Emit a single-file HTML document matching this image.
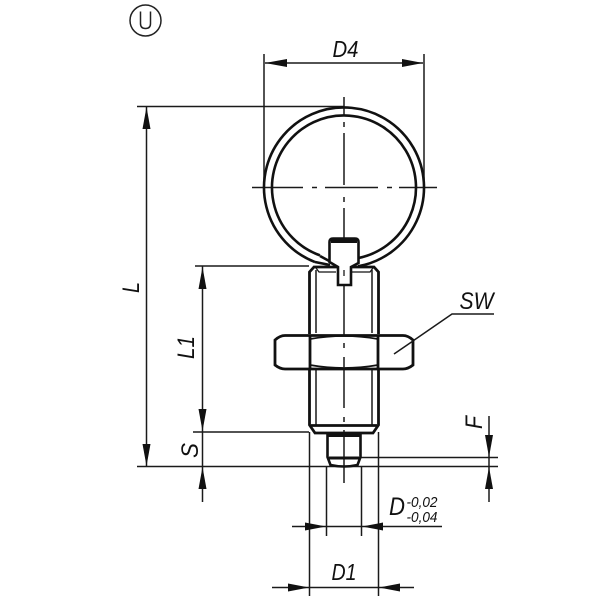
<!DOCTYPE html>
<html><head><meta charset="utf-8"><style>html,body{margin:0;padding:0;background:#fff}svg{display:block}text{font-family:"Liberation Sans",sans-serif;fill:#111}</style></head><body>
<svg width="600" height="600" viewBox="0 0 600 600" xmlns="http://www.w3.org/2000/svg">
<rect width="600" height="600" fill="#fff"/>
<!-- U mark -->
<circle cx="145.500" cy="20.500" r="15.500" fill="none" stroke="#222" stroke-width="1.500"/>
<path d="M140.500 11.500V23.500Q140.500 28.500 145.500 28.500T150.500 23.500V11.500" fill="none" stroke="#222" stroke-width="1.500"/>
<!-- thin lines -->
<g stroke="#1a1a1a" stroke-width="1.500" fill="none">
<path d="M264 54V180M424 54V180"/>
<path d="M265 63H423"/>
<path d="M137 106.500H344"/>
<path d="M146.500 107V467"/>
<path d="M195 266H309"/>
<path d="M202.500 266V502"/>
<path d="M193 432H309"/>
<path d="M137 466.500H498"/>
<path d="M361 457.500H498"/>
<path d="M489 416V502"/>
<path d="M309.500 432V596M378.500 432V596"/>
<path d="M326.500 467V536M361.500 467V536"/>
<path d="M292 526.500H442"/>
<path d="M272 587.500H414"/>
<path d="M394 354L452 314H494"/>
<path d="M344 97V115M344 122V127M344 133V185M344 197V202M344 208V250M344 285V335M344 343V348M344 357V408M344 417V422M344 430V483"/>
<path d="M252 187.500H303M312 187.500H317M325 187.500H378M387 187.500H392M399 187.500H437"/>
<path d="M316 270V333M372 270V333M316 369V425M372 369V425"/>
</g>
<!-- ring -->
<g fill="none" stroke="#111" stroke-width="2.600">
<path d="M315 262.060A80 80 0 1 1 358 266.270"/>
<path d="M320 255.380A72 72 0 1 1 358 258.120"/>
<path d="M320 256L331 262M315 262L330 265"/>
</g>
<!-- body -->
<g fill="none" stroke="#111" stroke-width="2.800">
<path d="M309.500 334V272L314 267H374L378.500 272V334"/>
<path d="M309.500 369V425L315 433H373L378.500 425V369"/>
<path d="M311 425.500H377"/>
</g>
<path d="M316 268L319 272H336M352 272H370L373 268" fill="none" stroke="#111" stroke-width="1.200"/>
<!-- plunger top -->
<path d="M329.500 262V242Q329.500 238.500 333 238.500H355Q358.500 238.500 358.500 242V263L351 267V285H338V267Z" fill="#fff" stroke="#111" stroke-width="2.600"/>
<path d="M331 241H357" stroke="#111" stroke-width="4" fill="none"/>
<path d="M344 270V276" stroke="#1a1a1a" stroke-width="1.300" fill="none"/>
<!-- nut -->
<path d="M285 335.500H403Q408 335.500 413 340V365Q408 369 403 369H285Q280 369 275 365V340Q280 335.500 285 335.500Z" fill="#fff" stroke="#111" stroke-width="2.800"/>
<path d="M310 336V368M378 336V368" stroke="#111" stroke-width="2.800" fill="none"/>
<path d="M310 339Q344 333 378 339M310 365Q344 371 378 365" stroke="#111" stroke-width="1.800" fill="none"/>
<path d="M344 343V348M344 357V368" stroke="#1a1a1a" stroke-width="1.500" fill="none"/>
<path d="M394 354L413 341" stroke="#1a1a1a" stroke-width="1.500" fill="none"/>
<!-- pin -->
<g fill="none" stroke="#111" stroke-width="2.600">
<path d="M327.500 434V457L330.500 465Q344 468 357.500 465L360.500 457V434"/>
<path d="M328 435H360" stroke-width="4"/>
<path d="M329 458H359" stroke-width="3"/>
</g>
<!-- arrows -->
<g fill="#111">
<path d="M265 63L287 59V67Z"/><path d="M423 63L402 59V67Z"/>
<path d="M146.500 107L142.500 129H150.500Z"/><path d="M146.500 466L142.500 444H150.500Z"/>
<path d="M202.500 267L198.500 289H206.500Z"/><path d="M202.500 431L198.500 409H206.500Z"/>
<path d="M202.500 467L198.500 489H206.500Z"/>
<path d="M489 457L485 435H493Z"/><path d="M489 467L485 489H493Z"/>
<path d="M326 526.500L305 522.500V530.500Z"/><path d="M362 526.500L383 522.500V530.500Z"/>
<path d="M309 587.500L288 583.500V591.500Z"/><path d="M379 587.500L400 583.500V591.500Z"/>
</g>
<!-- labels -->
<g font-style="italic">
<text x="332.500" y="57" font-size="23" textLength="26" lengthAdjust="spacingAndGlyphs">D4</text>
<text x="459.500" y="309" font-size="24" textLength="34" lengthAdjust="spacingAndGlyphs">SW</text>
<text x="331.500" y="580" font-size="23" textLength="25" lengthAdjust="spacingAndGlyphs">D1</text>
<text x="389" y="515" font-size="25" textLength="16" lengthAdjust="spacingAndGlyphs">D</text>
<text x="406.500" y="507" font-size="15" textLength="31" lengthAdjust="spacingAndGlyphs">-0,02</text>
<text x="406.500" y="522" font-size="15" textLength="31" lengthAdjust="spacingAndGlyphs">-0,04</text>
<text transform="translate(139 293) rotate(-90)" font-size="24" textLength="11" lengthAdjust="spacingAndGlyphs">L</text>
<text transform="translate(194 359) rotate(-90)" font-size="24" textLength="23" lengthAdjust="spacingAndGlyphs">L1</text>
<text transform="translate(198 458) rotate(-90)" font-size="24" textLength="15" lengthAdjust="spacingAndGlyphs">S</text>
<text transform="translate(482 429) rotate(-90)" font-size="24" textLength="13" lengthAdjust="spacingAndGlyphs">F</text>
</g>
</svg>
</body></html>
